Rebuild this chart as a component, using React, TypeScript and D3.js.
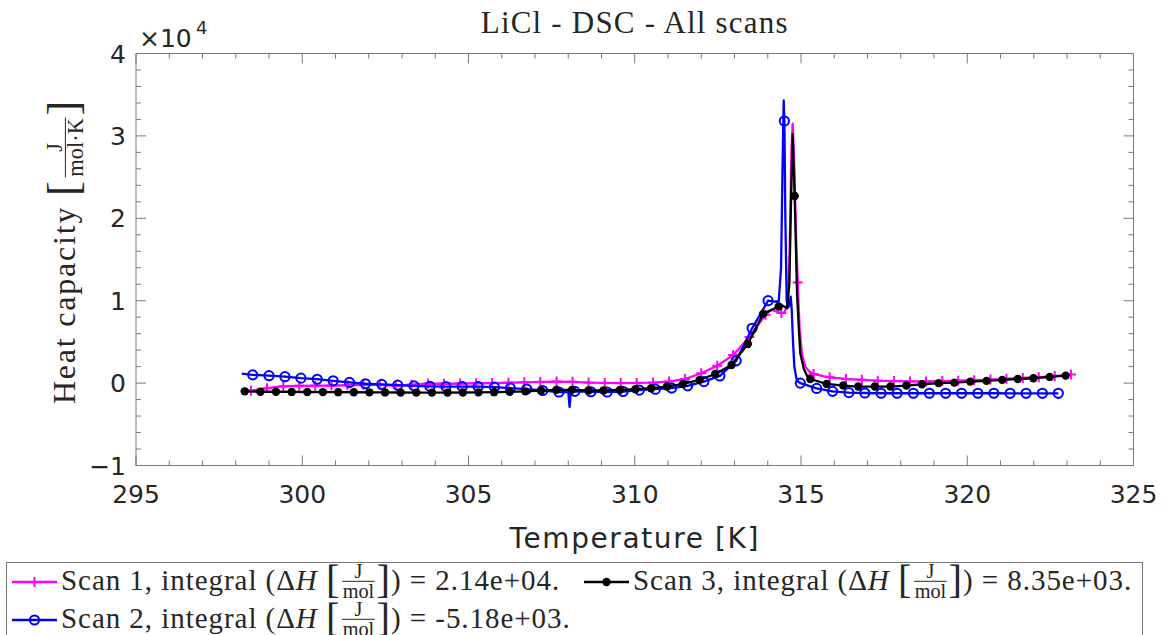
import React from 'react';
import * as d3 from 'd3';

// ---------- data ----------
const xTickValues = [295, 300, 305, 310, 315, 320, 325];
const yTickValues = [-1, 0, 1, 2, 3, 4]; // ×10^4

// Scan 1 (magenta, + markers)
const scan1T = [298.46, 298.94, 299.43, 299.91, 300.39, 300.88, 301.36, 301.84, 302.33, 302.81, 303.29, 303.78, 304.26, 304.75, 305.23, 305.71, 306.20, 306.68, 307.16, 307.65, 308.13, 308.61, 309.10, 309.58, 310.06, 310.55, 311.03, 311.51, 312.00, 312.48, 312.96, 313.45, 313.93, 314.41, 314.90, 315.38, 315.86, 316.35, 316.83, 317.31, 317.80, 318.28, 318.76, 319.25, 319.73, 320.21, 320.70, 321.18, 321.67, 322.15, 322.63, 323.12];
const scan1V = [-900, -620, -380, -330, -320, -300, -260, -200, -220, -300, -200, -60, -80, -60, -20, 0, 40, 90, 140, 180, 150, 60, 20, 0, 20, 60, 180, 500, 1200, 2100, 3400, 5600, 8300, 8500, 12200, 1100, 700, 500, 400, 300, 250, 200, 200, 250, 300, 350, 430, 520, 620, 720, 850, 1050];
const scan1ExtraT = [298.2, 314.1, 314.5, 314.6, 314.66, 314.71, 314.75, 314.8, 314.85, 314.96, 315.03, 315.13, 315.25];
const scan1ExtraV = [-1000, 8900, 8600, 9500, 16000, 28000, 31500, 26000, 18000, 6500, 3500, 2000, 1400];

// Scan 2 (blue, o markers)
const scan2T = [298.51, 299.00, 299.48, 299.96, 300.45, 300.93, 301.42, 301.90, 302.39, 302.87, 303.36, 303.84, 304.32, 304.81, 305.29, 305.78, 306.26, 306.75, 307.23, 307.72, 308.20, 308.68, 309.17, 309.65, 310.14, 310.62, 311.11, 311.59, 312.08, 312.56, 313.05, 313.53, 314.01, 314.50, 314.98, 315.47, 315.95, 316.44, 316.92, 317.41, 317.89, 318.38, 318.86, 319.35, 319.83, 320.32, 320.80, 321.29, 321.77, 322.26, 322.74];
const scan2V = [1000, 900, 780, 600, 470, 280, 80, -80, -150, -250, -340, -400, -420, -420, -430, -500, -620, -720, -900, -1080, -1000, -1050, -1080, -1020, -850, -740, -600, -330, 180, 870, 2700, 6650, 10000, 31800, 0, -650, -1000, -1150, -1200, -1230, -1230, -1230, -1230, -1230, -1230, -1230, -1230, -1240, -1240, -1240, -1240];
const scan2ExtraT = [298.18, 308.0, 308.04, 308.08, 314.2, 314.33, 314.4, 314.44, 314.48, 314.53, 314.57, 314.62, 314.66, 314.69, 314.72, 314.76, 314.8, 314.86, 314.92];
const scan2ExtraV = [1150, -1050, -2900, -1050, 9900, 9900, 14000, 25000, 34300, 20000, 10000, 9200, 9600, 10500, 9000, 5000, 2000, 600, 150];

// Scan 3 (black, filled dots)
const scan3T = [298.27, 298.74, 299.21, 299.68, 300.15, 300.62, 301.08, 301.55, 302.02, 302.49, 302.96, 303.43, 303.90, 304.37, 304.83, 305.30, 305.77, 306.24, 306.71, 307.18, 307.64, 308.11, 308.61, 309.06, 309.55, 310.02, 310.49, 310.97, 311.45, 311.95, 312.42, 312.91, 313.40, 313.86, 314.33, 314.81, 315.28, 315.77, 316.27, 316.72, 317.22, 317.69, 318.17, 318.64, 319.14, 319.61, 320.09, 320.58, 321.05, 321.52, 321.99, 322.48, 322.96];
const scan3V = [-1000, -1050, -1050, -1070, -1080, -1090, -1100, -1110, -1120, -1130, -1140, -1150, -1150, -1150, -1140, -1120, -1100, -1060, -1000, -900, -820, -820, -900, -900, -830, -740, -620, -420, -100, 390, 1100, 2200, 4750, 8400, 9300, 22700, 500, -100, -300, -420, -420, -420, -300, -140, 0, 60, 180, 270, 390, 500, 590, 750, 910];
const scan3ExtraT = [298.2, 314.45, 314.58, 314.65, 314.7, 314.75, 314.88, 314.93, 314.98, 315.08, 315.18];
const scan3ExtraV = [-1000, 9400, 9100, 12000, 22000, 30200, 10900, 7000, 3600, 1800, 900];

const legendLabels = ['Scan 1', 'Scan 2', 'Scan 3'];
const legendValues = ['2.14e+04', '-5.18e+03', '8.35e+03'];
const titleText = 'LiCl - DSC - All scans';
const xLabelText = 'Temperature [K]';

// ---------- layout ----------
const W = 1163, H = 635;
const M = { left: 136, right: 1133.5, top: 53.5, bottom: 465.5 };
const SERIF = "'Liberation Serif', 'Times New Roman', serif";
const SANS = "'DejaVu Sans', sans-serif";
const TXT = '#262626';
const AX = '#7a7a7a';

let _ctx: CanvasRenderingContext2D | null = null;
function tw(s: string, size: number, italic = false) {
  if (!_ctx) _ctx = document.createElement('canvas').getContext('2d');
  _ctx!.font = `${italic ? 'italic ' : ''}${size}px 'Liberation Serif'`;
  return _ctx!.measureText(s).width;
}

type Part = { t?: string; it?: boolean; big?: boolean; num?: string; den?: string };

function MathText({ parts, fs, x, y, anchor = 'start', ls = 0 }: { parts: Part[]; fs: number; x: number; y: number; anchor?: string; ls?: number }) {
  const items: any[] = [];
  let cx = 0;
  parts.forEach((p) => {
    if (p.num !== undefined) {
      const f = fs * 0.7;
      const wn = tw(p.num!, f), wd = tw(p.den!, f);
      const w = Math.max(wn, wd) + fs * 0.16;
      items.push({ kind: 'frac', x: cx, w, f, num: p.num, den: p.den });
      cx += w;
    } else {
      const size = p.big ? fs * 1.4 : fs;
      const w = tw(p.t!, size, p.it) + ls * Array.from(p.t!).length;
      items.push({ kind: 't', x: cx, size, t: p.t, it: p.it, big: p.big });
      cx += w;
    }
  });
  const off = anchor === 'middle' ? -cx / 2 : anchor === 'end' ? -cx : 0;
  return (
    <g transform={`translate(${x + off},${y})`} fill={TXT} fontFamily={SERIF}>
      {items.map((it, i) =>
        it.kind === 'frac' ? (
          <g key={i}>
            <line x1={it.x + fs * 0.06} x2={it.x + it.w - fs * 0.06} y1={-0.3 * fs} y2={-0.3 * fs} stroke={TXT} strokeWidth={1} />
            <text x={it.x + it.w / 2} y={-0.4 * fs} fontSize={it.f} textAnchor="middle">{it.num}</text>
            <text x={it.x + it.w / 2} y={0.26 * fs} fontSize={it.f} textAnchor="middle">{it.den}</text>
          </g>
        ) : (
          <text key={i} x={it.x} y={it.big ? 0.1 * fs : 0} fontSize={it.size} letterSpacing={ls} fontStyle={it.it ? 'italic' : 'normal'} style={{ whiteSpace: 'pre' }}>
            {it.t}
          </text>
        )
      )}
    </g>
  );
}

function legendParts(label: string, value: string): Part[] {
  return [
    { t: `${label}, integral (Δ` },
    { t: 'H', it: true },
    { t: ' ' },
    { t: '[', big: true },
    { num: 'J', den: 'mol' },
    { t: ']', big: true },
    { t: `) = ${value}.` },
  ];
}

function Marker({ kind, x, y }: { kind: string; x: number; y: number }) {
  if (kind === 'plus')
    return <path d={`M${x - 5},${y}H${x + 5}M${x},${y - 5}V${y + 5}`} stroke="#ff00ff" strokeWidth={2} fill="none" />;
  if (kind === 'circle') return <circle cx={x} cy={y} r={4.6} stroke="#0000ff" strokeWidth={2} fill="none" />;
  return <circle cx={x} cy={y} r={4.2} fill="#000" />;
}

export default function App() {
  const x = d3.scaleLinear().domain([295, 325]).range([M.left, M.right]);
  const y = d3.scaleLinear().domain([-10000, 40000]).range([M.bottom, M.top]);

  const series = [
    { T: scan1T, V: scan1V, eT: scan1ExtraT, eV: scan1ExtraV, color: '#ff00ff', marker: 'plus' },
    { T: scan2T, V: scan2V, eT: scan2ExtraT, eV: scan2ExtraV, color: '#0000ff', marker: 'circle' },
    { T: scan3T, V: scan3V, eT: scan3ExtraT, eV: scan3ExtraV, color: '#000000', marker: 'dot' },
  ];
  const line = d3.line<[number, number]>().x((d) => x(d[0])).y((d) => y(d[1]));

  const xMinor = d3.range(295, 325.001, 1).filter((v) => v % 5 !== 0);
  const yMinor = d3.range(-10000, 40001, 2000).filter((v) => v % 10000 !== 0);
  const majLen = 10, minLen = 5;

  return (
    <svg width={W} height={H} style={{ position: 'fixed', left: 0, top: 0, background: '#fff' }}>
      <rect x={0} y={0} width={W} height={H} fill="#fff" />
      {/* title */}
      <text x={(M.left + M.right) / 2} y={33} textAnchor="middle" fontFamily={SERIF} fontSize={31} fill={TXT} letterSpacing={1.2}>
        {titleText}
      </text>

      {/* data */}
      {series.map((s, si) => {
        const pts: [number, number][] = s.T.map((t, i) => [t, s.V[i]] as [number, number])
          .concat(s.eT.map((t, i) => [t, s.eV[i]] as [number, number]))
          .sort((a, b) => a[0] - b[0]);
        return (
          <g key={si}>
            <path d={line(pts)!} fill="none" stroke={s.color} strokeWidth={2.3} strokeLinejoin="round" />
            {s.T.map((t, i) => (
              <Marker key={i} kind={s.marker} x={x(t)} y={y(s.V[i])} />
            ))}
          </g>
        );
      })}

      {/* axes box */}
      <rect x={M.left} y={M.top} width={M.right - M.left} height={M.bottom - M.top} fill="none" stroke={AX} strokeWidth={1} />
      {xTickValues.map((v) => (
        <g key={'xt' + v}>
          <line x1={x(v)} x2={x(v)} y1={M.bottom} y2={M.bottom - majLen} stroke={AX} />
          <line x1={x(v)} x2={x(v)} y1={M.top} y2={M.top + majLen} stroke={AX} />
          <text x={x(v)} y={503} textAnchor="middle" fontFamily={SANS} fontSize={25} fill={TXT}>{v}</text>
        </g>
      ))}
      {xMinor.map((v) => (
        <g key={'xm' + v}>
          <line x1={x(v)} x2={x(v)} y1={M.bottom} y2={M.bottom - minLen} stroke={AX} />
          <line x1={x(v)} x2={x(v)} y1={M.top} y2={M.top + minLen} stroke={AX} />
        </g>
      ))}
      {yTickValues.map((v) => (
        <g key={'yt' + v}>
          <line x1={M.left} x2={M.left + majLen} y1={y(v * 10000)} y2={y(v * 10000)} stroke={AX} />
          <line x1={M.right} x2={M.right - majLen} y1={y(v * 10000)} y2={y(v * 10000)} stroke={AX} />
          <text x={126} y={y(v * 10000) + 9} textAnchor="end" fontFamily={SANS} fontSize={25} fill={TXT}>
            {v < 0 ? '\u2212' + Math.abs(v) : v}
          </text>
        </g>
      ))}
      {yMinor.map((v) => (
        <g key={'ym' + v}>
          <line x1={M.left} x2={M.left + minLen} y1={y(v)} y2={y(v)} stroke={AX} />
          <line x1={M.right} x2={M.right - minLen} y1={y(v)} y2={y(v)} stroke={AX} />
        </g>
      ))}
      {/* exponent */}
      <text x={139} y={47} fontFamily={SANS} fontSize={25} fill={TXT}>×10</text>
      <text x={196} y={34} fontFamily={SANS} fontSize={18} fill={TXT}>4</text>

      {/* x label */}
      <text x={(M.left + M.right) / 2} y={548} textAnchor="middle" fontFamily={SANS} fontSize={28} letterSpacing={1.6} fill={TXT}>
        {xLabelText}
      </text>

      {/* y label */}
      <g transform={`translate(75,${(M.top + M.bottom) / 2 - 8}) rotate(-90)`}>
        <MathText
          parts={[{ t: 'Heat capacity ' }, { t: '[', big: true }, { num: 'J', den: 'mol·K' }, { t: ']', big: true }]}
          fs={32}
          ls={1.8}
          x={0}
          y={0}
          anchor="middle"
        />
      </g>

      {/* legend */}
      <rect x={6.5} y={562.5} width={1136} height={100} fill="#fff" stroke={AX} strokeWidth={1} />
      {[
        { si: 0, lx: 12, row: 0 },
        { si: 1, lx: 12, row: 1 },
        { si: 2, lx: 584, row: 0 },
      ].map((e) => {
        const s = series[e.si];
        const ly = 582 + e.row * 38;
        return (
          <g key={e.si}>
            <line x1={e.lx} x2={e.lx + 45} y1={ly} y2={ly} stroke={s.color} strokeWidth={2.3} />
            <Marker kind={s.marker} x={e.lx + 22.5} y={ly} />
            <MathText parts={legendParts(legendLabels[e.si], legendValues[e.si])} fs={29} ls={0.95} x={e.lx + 49} y={ly + 8} />
          </g>
        );
      })}
    </svg>
  );
}
